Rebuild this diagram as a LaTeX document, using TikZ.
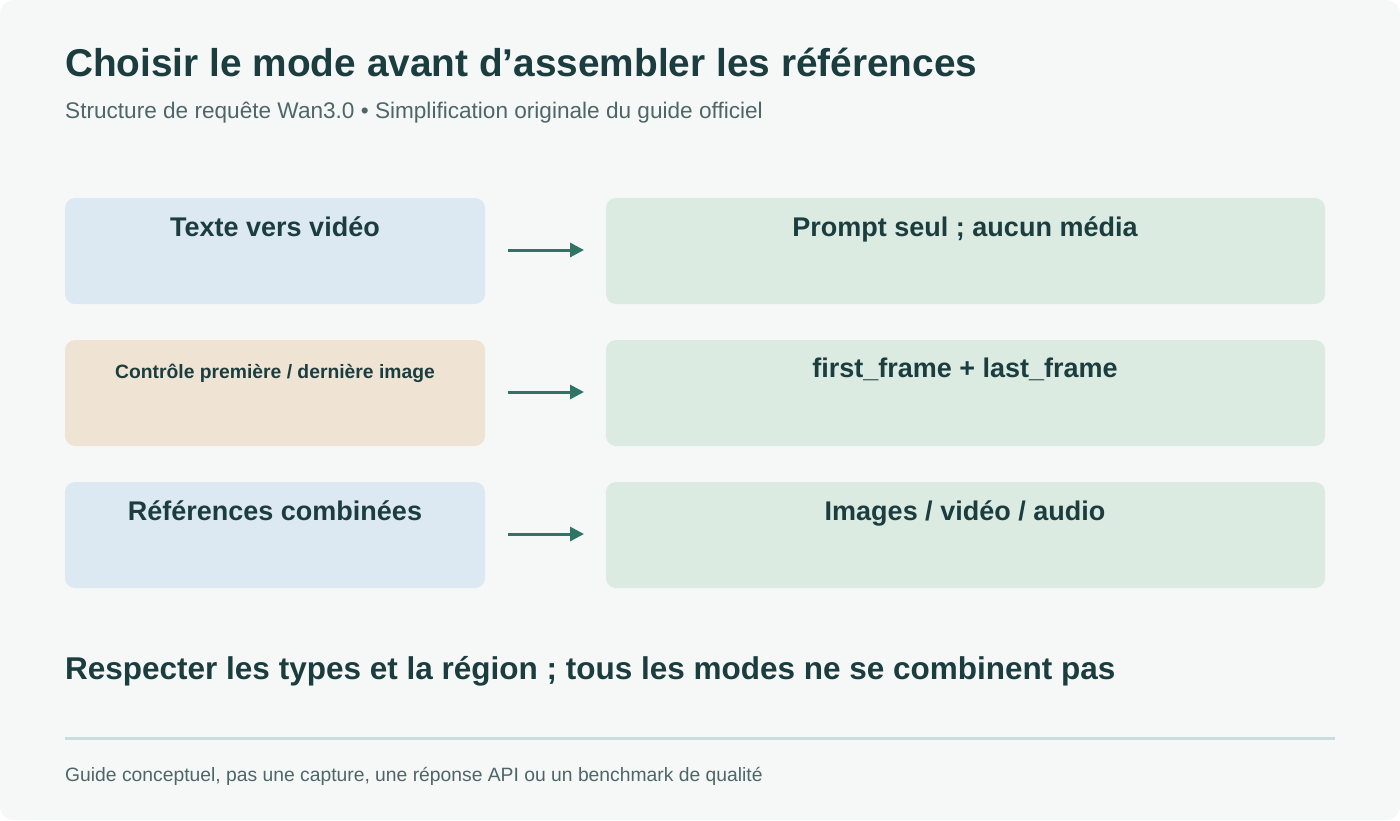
\documentclass[tikz,border=0pt]{standalone}
\usepackage{fontspec}
\setmainfont{Liberation Sans}
\usetikzlibrary{arrows.meta}
\definecolor{bg}{HTML}{F6F8F7}
\definecolor{ink}{HTML}{1B3D3F}
\definecolor{sub}{HTML}{4E6667}
\definecolor{bluebox}{HTML}{DCE9F2}
\definecolor{tanbox}{HTML}{EFE3D3}
\definecolor{greenbox}{HTML}{DCEBE1}
\definecolor{arr}{HTML}{2E7566}
\definecolor{rule}{HTML}{CADDDD}
\tikzset{
 box/.style={rounded corners=10pt,inner sep=0pt},
 lbl/.style={font=\bfseries\fontsize{27}{30}\selectfont,text=ink,anchor=north,inner sep=0pt},
 conn/.style={draw=arr,line width=3pt,-{Stealth[length=14pt,width=14pt,inset=0pt]}}
}
\begin{document}
\begin{tikzpicture}[x=1pt,y=-1pt]
\useasboundingbox (0,0) rectangle (1400,820);
\fill[white] (0,0) rectangle (1400,820);
\fill[bg,rounded corners=14pt] (0,0) rectangle (1400,820);
\node[anchor=base west,inner sep=0pt,font=\bfseries\fontsize{38.8}{44}\selectfont,text=ink] (title) at (65,76) {Choisir le mode avant d’assembler les références};
\node[anchor=base west,inner sep=0pt,font=\fontsize{22.6}{26}\selectfont,text=sub] (subt) at (65,118) {Structure de requête Wan3.0 • Simplification originale du guide officiel};
\foreach \y/\c/\n in {198/bluebox/a,340/tanbox/b,482/bluebox/c}{
 \fill[\c,box] (65,\y) rectangle (485,\y+106);
 \fill[greenbox,box] (606,\y) rectangle (1325,\y+106);
 \coordinate (s\n) at (508,\y+52);
 \coordinate (e\n) at (584,\y+52);
}
\node[lbl] (l1) at (275,216) {Texte vers vidéo};
\node[lbl,font=\bfseries\fontsize{19.3}{22}\selectfont] (l2) at (275,364) {Contrôle première / dernière image};
\node[lbl] (l3) at (275,500) {Références combinées};
\node[lbl] (r1) at (965,216) {Prompt seul ; aucun média};
\node[lbl] (r2) at (965,358) {first\_frame + last\_frame};
\node[lbl] (r3) at (965,500) {Images / vidéo / audio};
\draw[conn] (sa) -- (ea);
\draw[conn] (sb) -- (eb);
\draw[conn] (sc) -- (ec);
\node[anchor=base west,inner sep=0pt,font=\bfseries\fontsize{31.5}{36}\selectfont,text=ink] (note) at (65,679) {Respecter les types et la région ; tous les modes ne se combinent pas};
\coordinate (ra) at (65,738); \coordinate (rb) at (1335,738);
\draw[rule,line width=3pt] (ra) -- (rb);
\node[anchor=base west,inner sep=0pt,font=\fontsize{19.3}{22}\selectfont,text=sub] (foot) at (65,781) {Guide conceptuel, pas une capture, une réponse API ou un benchmark de qualité};
\end{tikzpicture}
\end{document}
